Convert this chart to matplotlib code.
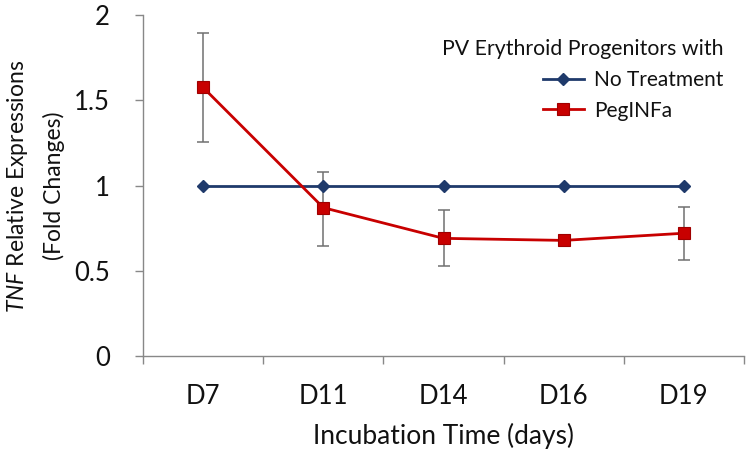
import matplotlib
matplotlib.use("Agg")
import matplotlib.pyplot as plt
import numpy as np

# ---- data ----
categories = ["D7", "D11", "D14", "D16", "D19"]
no_treatment = [1.0, 1.0, 1.0, 1.0, 1.0]
peginfa = [1.575, 0.87, 0.69, 0.678, 0.72]
peginfa_err_lo = [0.32, 0.225, 0.165, 0.0, 0.155]
peginfa_err_hi = [0.32, 0.21, 0.165, 0.0, 0.155]
yticks = [0, 0.5, 1, 1.5, 2]
ytick_labels = ["0", "0.5", "1", "1.5", "2"]

FONT = "Lato"
plt.rcParams["font.family"] = [FONT, "DejaVu Sans"]
plt.rcParams["mathtext.fontset"] = "custom"
plt.rcParams["mathtext.rm"] = FONT
plt.rcParams["mathtext.it"] = FONT + ":italic"

navy = "#1F3A6B"
red = "#C80000"
axis_col = "#888888"
txt = "#111111"
FS = 18.5

fig = plt.figure(figsize=(7.5, 4.55), dpi=100)
ax = fig.add_axes([143/750, 1-356/455, (744-143)/750, (356-15)/455])

x = np.arange(len(categories))

ax.errorbar(x, peginfa, yerr=[peginfa_err_lo, peginfa_err_hi], fmt="none",
            ecolor="#707070", elinewidth=1.1, capsize=4, capthick=1.1, zorder=2)
ax.plot(x, no_treatment, color=navy, lw=2.0, marker="D", ms=6,
        mfc=navy, mec=navy, zorder=3, label="No Treatment")
ax.plot(x, peginfa, color=red, lw=2.0, marker="s", ms=8.5,
        mfc=red, mec="#A00000", mew=0.8, zorder=4, label="PegINFa")

ax.set_xlim(-0.5, len(categories) - 0.5)
ax.set_ylim(0, 2)

ax.set_yticks(yticks)
ax.set_yticklabels(ytick_labels)
ax.set_xticks(x)
ax.set_xticklabels(categories)
ax.set_xticks(np.arange(len(categories) + 1) - 0.5, minor=True)
ax.tick_params(axis="x", which="major", length=0, pad=20, labelsize=FS, labelcolor=txt)
ax.tick_params(axis="x", which="minor", length=6, width=1, color=axis_col, direction="out")
ax.tick_params(axis="y", which="major", length=6, width=1, color=axis_col, direction="out",
               pad=18, labelsize=FS, labelcolor=txt)

for s in ["top", "right"]:
    ax.spines[s].set_visible(False)
for s in ["left", "bottom"]:
    ax.spines[s].set_color(axis_col)
    ax.spines[s].set_linewidth(1.0)

ax.set_xlabel("Incubation Time (days)", fontsize=19, color=txt, labelpad=10)
fig.text(35/750, 1-186/455, "$\\mathit{TNF}$ Relative Expressions\n(Fold Changes)",
         fontsize=16.5, color=txt, rotation=90, ha="center", va="center",
         linespacing=1.7)

leg = ax.legend(loc="upper right", bbox_to_anchor=(723/750, 1-39/455),
                bbox_transform=fig.transFigure, frameon=False,
                title="PV Erythroid Progenitors with", alignment="right",
                fontsize=15, title_fontsize=15.3, handlelength=2.0,
                handletextpad=0.45, labelspacing=0.5, borderpad=0, borderaxespad=0)
leg._legend_box.sep = 8
for t in leg.get_texts():
    t.set_color(txt)
leg.get_title().set_color(txt)

fig.savefig("out.png", dpi=100)
